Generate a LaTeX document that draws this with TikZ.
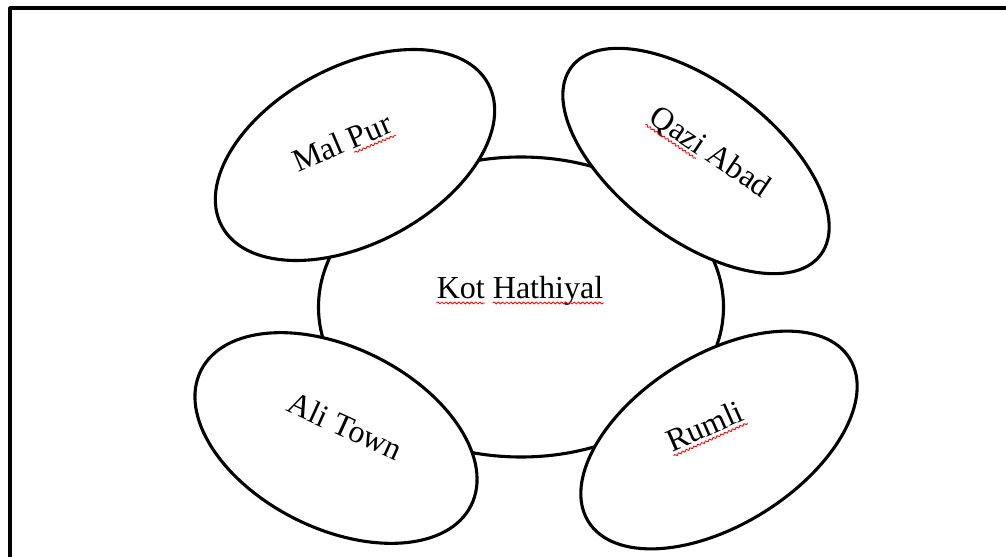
\documentclass[tikz,border=0pt]{standalone}
\usepackage{fontspec}
\setmainfont{Liberation Serif}
\usetikzlibrary{shapes.geometric,calc,decorations.pathmorphing}

\begin{document}
\begin{tikzpicture}[
  x=0.025cm, y=-0.025cm,
  line join=round,
  outline/.style={draw=black, line width=2.2pt},
  town/.style={ellipse, draw=black, fill=white, line width=2.2pt, inner sep=0pt},
  lbl/.style={font=\fontsize{22.8}{27}\selectfont, text=black, inner sep=0pt, anchor=base},
  squig/.style={draw=red, line width=0.6pt, decorate,
    decoration={snake, amplitude=0.75pt, segment length=3pt}},
]
\def\px{0.025cm}   % one pixel of the sheet
\useasboundingbox (0,0) rectangle (1006,557);

% --- Frame (only left and top edge lie on the sheet)
\draw[outline] (10,570) -- (10,8) -- (1020,8);

% --- Central town
\node[town, minimum width=405*\px, minimum height=300*\px] (kot) at (521,307) {};

% --- Surrounding towns, drawn over the centre
\node[town, minimum width=302*\px, minimum height=177*\px, rotate=28]    (malpur) at (355,155) {};
\node[town, minimum width=312*\px, minimum height=156*\px, rotate=-37]   (qazi)   at (696,161) {};
\node[town, minimum width=302*\px, minimum height=181*\px, rotate=-26.5] (ali)    at (336,438) {};
\node[town, minimum width=308*\px, minimum height=170*\px, rotate=32]    (rumli)  at (719,440) {};

% --- Labels
\node[lbl]               (kotlbl)   at (520,299) {Kot Hathiyal};
\node[lbl, rotate=23]    (mallbl)   at (346,152) {Mal Pur};
\node[lbl, rotate=-34]   (qazilbl)  at (705,160) {Qazi Abad};
\node[lbl, rotate=-24.5] (alilbl)   at (341,436) {Ali Town};
\node[lbl, rotate=24]    (rumlilbl) at (709,436) {Rumli};

% --- Spelling marks under part of a label: #1 label, #2 from, #3 to (share of width)
\newcommand{\spellmark}[3]{%
  \coordinate (sw) at ($(#1.base west)!2.8pt!-90:(#1.base east)$);
  \coordinate (se) at ($(#1.base east)!2.8pt!90:(#1.base west)$);
  \draw[squig] ($(sw)!#2!(se)$) -- ($(sw)!#3!(se)$);
}
\spellmark{kotlbl}{0}{0.289}
\spellmark{kotlbl}{0.337}{1}
\spellmark{mallbl}{0.573}{1}
\spellmark{qazilbl}{0}{0.439}
\spellmark{rumlilbl}{0}{1}
\end{tikzpicture}
\end{document}
